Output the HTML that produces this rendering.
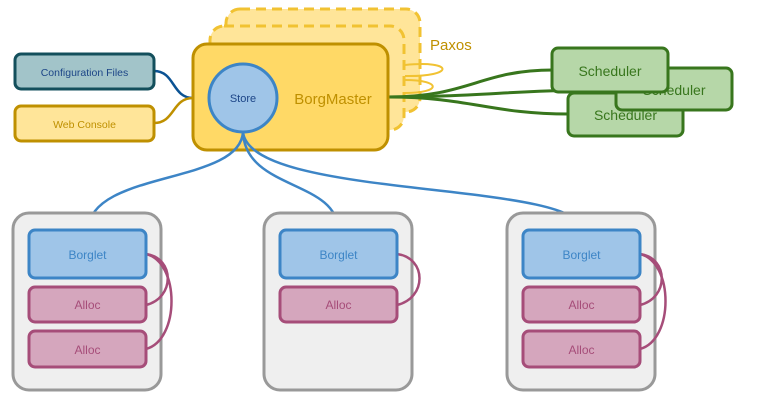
<!DOCTYPE html>
<html><head><meta charset="utf-8"><style>
html,body{margin:0;padding:0;background:#fff;width:766px;height:416px;overflow:hidden}
text{font-family:"Liberation Sans",Arial,sans-serif}
</style></head><body>
<svg width="766" height="416" viewBox="0 0 766 416" xmlns="http://www.w3.org/2000/svg">
<!-- paxos back boxes -->
<rect x="226" y="9" width="194" height="103" rx="14" fill="#ffe599" stroke="#f1c232" stroke-width="3" stroke-dasharray="10,6"/>
<rect x="210" y="26" width="194" height="104" rx="14" fill="#ffe599" stroke="#f1c232" stroke-width="3" stroke-dasharray="10,6"/>
<path d="M405 65 C 455 60, 455 77, 405 76" fill="none" stroke="#f1c232" stroke-width="2"/>
<path d="M405 80 C 442 80, 442 93, 405 93" fill="none" stroke="#f1c232" stroke-width="2"/>
<text x="430" y="50" font-size="15" fill="#bf9000">Paxos</text>
<!-- left connectors -->
<path d="M154 71 C 175 71, 172 98, 193 98" fill="none" stroke="#0b5394" stroke-width="2.5"/>
<path d="M154 123 C 175 123, 172 98, 193 98" fill="none" stroke="#bf9000" stroke-width="2.5"/>
<rect x="15" y="54" width="139" height="35" rx="6" fill="#a2c4c9" stroke="#134f5c" stroke-width="3"/>
<text x="84.5" y="76" font-size="10.5" fill="#1c4587" text-anchor="middle">Configuration Files</text>
<rect x="15" y="106" width="139" height="35" rx="6" fill="#ffe599" stroke="#bf9000" stroke-width="3"/>
<text x="84.5" y="128" font-size="10.5" fill="#bf9000" text-anchor="middle">Web Console</text>
<!-- scheduler connectors -->
<path d="M388 97 C 470 97, 480 70, 553 70" fill="none" stroke="#38761d" stroke-width="3"/>
<path d="M388 97 C 470 97, 520 90, 618 89" fill="none" stroke="#38761d" stroke-width="3"/>
<path d="M388 97 C 470 97, 490 114, 569 114" fill="none" stroke="#38761d" stroke-width="3"/>
<!-- BorgMaster -->
<rect x="193" y="44" width="195" height="106" rx="14" fill="#ffd966" stroke="#bf9000" stroke-width="3"/>
<text x="333" y="104" font-size="15" fill="#bf9000" text-anchor="middle">BorgMaster</text>
<!-- store connectors -->
<path d="M243 132 C 240 185, 90 170, 88 230" fill="none" stroke="#3d85c6" stroke-width="2.5"/>
<path d="M243 132 C 245 190, 338 180, 338 230" fill="none" stroke="#3d85c6" stroke-width="2.5"/>
<path d="M243 132 C 250 200, 580 180, 582 230" fill="none" stroke="#3d85c6" stroke-width="2.5"/>
<circle cx="243" cy="98" r="34" fill="#9fc5e8" stroke="#3d85c6" stroke-width="3"/>
<text x="243" y="102" font-size="11" fill="#1c4587" text-anchor="middle">Store</text>
<!-- schedulers -->
<rect x="568" y="93" width="115" height="43" rx="6" fill="#b6d7a8" stroke="#38761d" stroke-width="3"/>
<text x="625.5" y="120" font-size="14" fill="#38761d" text-anchor="middle">Scheduler</text>
<rect x="616" y="68" width="116" height="42" rx="6" fill="#b6d7a8" stroke="#38761d" stroke-width="3"/>
<text x="674" y="95" font-size="14" fill="#38761d" text-anchor="middle">Scheduler</text>
<rect x="552" y="48" width="116" height="44" rx="6" fill="#b6d7a8" stroke="#38761d" stroke-width="3"/>
<text x="610" y="76" font-size="14" fill="#38761d" text-anchor="middle">Scheduler</text>
<!-- worker 1 -->
<rect x="13" y="213" width="148" height="177" rx="16" fill="#efefef" stroke="#999" stroke-width="3"/>
<path d="M146 254 C 175 258, 175 298, 146 305" fill="none" stroke="#a64d79" stroke-width="2.5"/>
<path d="M146 254 C 180 262, 180 340, 146 349" fill="none" stroke="#a64d79" stroke-width="2.5"/>
<rect x="29" y="230" width="117" height="48" rx="6" fill="#9fc5e8" stroke="#3d85c6" stroke-width="3"/>
<text x="87.5" y="259" font-size="12" fill="#3d85c6" text-anchor="middle">Borglet</text>
<rect x="29" y="287" width="117" height="35" rx="6" fill="#d5a6bd" stroke="#a64d79" stroke-width="3"/>
<text x="87.5" y="309" font-size="12" fill="#a64d79" text-anchor="middle">Alloc</text>
<rect x="29" y="331" width="117" height="36" rx="6" fill="#d5a6bd" stroke="#a64d79" stroke-width="3"/>
<text x="87.5" y="354" font-size="12" fill="#a64d79" text-anchor="middle">Alloc</text>
<!-- worker 2 -->
<rect x="264" y="213" width="148" height="177" rx="16" fill="#efefef" stroke="#999" stroke-width="3"/>
<path d="M397 254 C 427 258, 427 298, 397 305" fill="none" stroke="#a64d79" stroke-width="2.5"/>
<rect x="280" y="230" width="117" height="48" rx="6" fill="#9fc5e8" stroke="#3d85c6" stroke-width="3"/>
<text x="338.5" y="259" font-size="12" fill="#3d85c6" text-anchor="middle">Borglet</text>
<rect x="280" y="287" width="117" height="35" rx="6" fill="#d5a6bd" stroke="#a64d79" stroke-width="3"/>
<text x="338.5" y="309" font-size="12" fill="#a64d79" text-anchor="middle">Alloc</text>
<!-- worker 3 -->
<rect x="507" y="213" width="148" height="177" rx="16" fill="#efefef" stroke="#999" stroke-width="3"/>
<path d="M640 254 C 669 258, 669 298, 640 305" fill="none" stroke="#a64d79" stroke-width="2.5"/>
<path d="M640 254 C 674 262, 674 340, 640 349" fill="none" stroke="#a64d79" stroke-width="2.5"/>
<rect x="523" y="230" width="117" height="48" rx="6" fill="#9fc5e8" stroke="#3d85c6" stroke-width="3"/>
<text x="581.5" y="259" font-size="12" fill="#3d85c6" text-anchor="middle">Borglet</text>
<rect x="523" y="287" width="117" height="35" rx="6" fill="#d5a6bd" stroke="#a64d79" stroke-width="3"/>
<text x="581.5" y="309" font-size="12" fill="#a64d79" text-anchor="middle">Alloc</text>
<rect x="523" y="331" width="117" height="36" rx="6" fill="#d5a6bd" stroke="#a64d79" stroke-width="3"/>
<text x="581.5" y="354" font-size="12" fill="#a64d79" text-anchor="middle">Alloc</text>
</svg>
</body></html>
